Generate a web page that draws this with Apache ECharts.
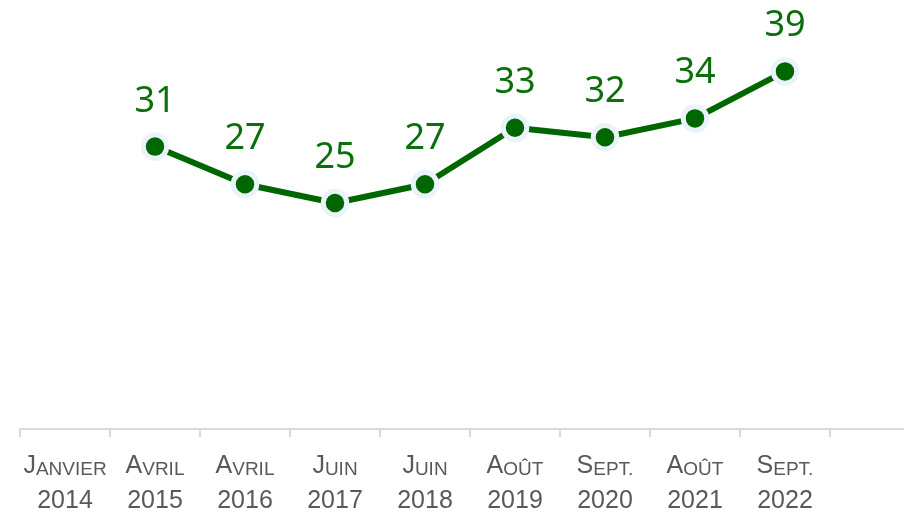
<!DOCTYPE html>
<html>
<head>
<meta charset="utf-8">
<script src="https://cdn.jsdelivr.net/npm/echarts@6/dist/echarts.min.js"></script>
<style>
  html, body { margin: 0; padding: 0; background: #fff; }
  #chart { width: 904px; height: 512px; }
</style>
</head>
<body>
<div id="chart"></div>
<script>
// libellés de l'axe : mois (petites capitales) + année
var months = ['Janvier', 'Avril', 'Avril', 'Juin', 'Juin', 'Août', 'Sept.', 'Août', 'Sept.', ''];
var years = ['2014', '2015', '2016', '2017', '2018', '2019', '2020', '2021', '2022', ''];
var values = [null, 31, 27, 25, 27, 33, 32, 34, 39, null];

var categories = months.map(function (m, i) { return (m + ' ' + years[i]).trim(); });

var labelFont = '"Liberation Sans Narrow", "Arial Narrow", "Liberation Sans", sans-serif';

function smallCaps(word) {
  if (!word) return '';
  var up = word.toUpperCase();
  return '{big|' + up.charAt(0) + '}{small|' + up.slice(1) + '}';
}

var myChart = echarts.init(document.getElementById('chart'));
myChart.setOption({
  animation: false,
  grid: {
    left: 20,
    right: -16,
    top: 15,
    bottom: 74,
    outerBoundsMode: 'none'
  },
  xAxis: {
    type: 'category',
    data: categories,
    boundaryGap: true,
    offset: -9,
    axisLine: {
      onZero: false,
      lineStyle: { color: '#d9d9d9', width: 2 }
    },
    axisTick: {
      show: true,
      length: 8,
      lineStyle: { color: '#d9d9d9', width: 2 }
    },
    axisLabel: {
      interval: 0,
      margin: 15,
      formatter: function (value, index) {
        if (!months[index]) return '';
        return smallCaps(months[index]) + '\n{year|' + years[index] + '}';
      },
      rich: {
        big: { fontSize: 25, fontFamily: labelFont, color: '#595959', lineHeight: 35, verticalAlign: 'bottom' },
        small: { fontSize: 19, fontFamily: labelFont, color: '#595959', lineHeight: 35, verticalAlign: 'bottom' },
        year: { fontSize: 25, fontFamily: labelFont, color: '#595959', lineHeight: 35, verticalAlign: 'bottom' }
      }
    }
  },
  yAxis: {
    type: 'value',
    min: 0,
    max: 45,
    show: false,
    splitLine: { show: false }
  },
  series: [{
    type: 'line',
    data: values,
    connectNulls: false,
    symbol: 'circle',
    symbolSize: 23.5,
    lineStyle: { color: '#006600', width: 6 },
    itemStyle: { color: '#006600', borderColor: '#eaf2fa', borderWidth: 5 },
    label: {
      show: true,
      position: 'top',
      distance: 13,
      fontSize: 36,
      fontFamily: '"Noto Sans", sans-serif',
      color: '#0b700b'
    }
  }]
});
</script>
</body>
</html>
